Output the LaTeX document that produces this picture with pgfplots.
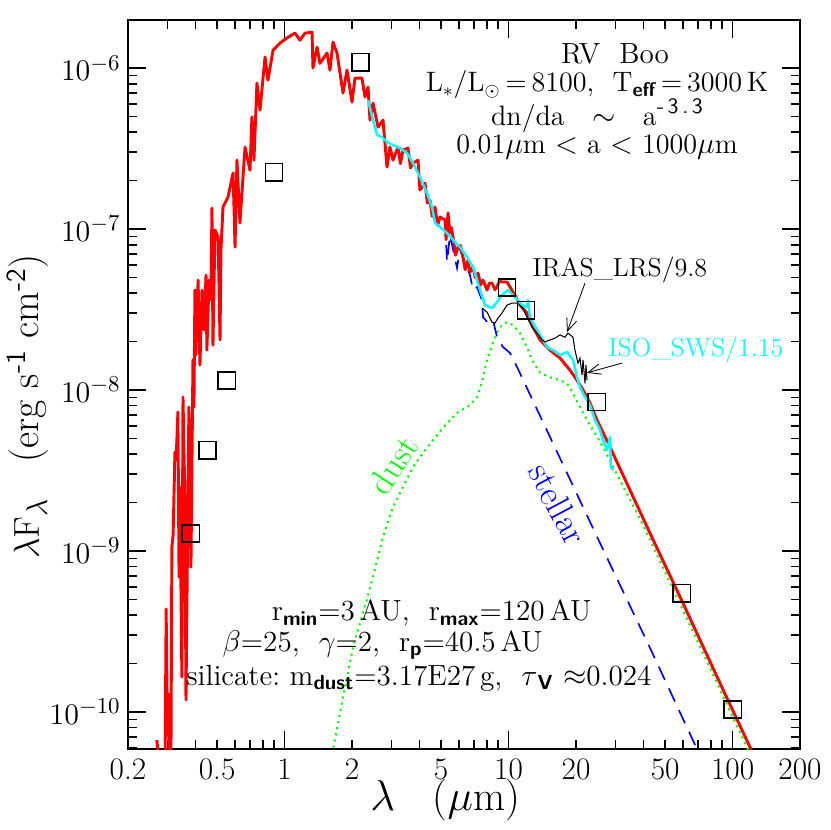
\documentclass[border=0pt]{standalone}
\usepackage{amsmath}
\usepackage{graphicx}
\usepackage{pgfplots}
\pgfplotsset{compat=1.18}
\usetikzlibrary{arrows.meta}
\definecolor{sedred}{HTML}{FF0000}
\definecolor{sedcyan}{HTML}{00FFFF}
\definecolor{sedblue}{HTML}{0000FF}
\definecolor{sedgreen}{HTML}{00FF00}
\newcommand{\fs}[1]{\fontsize{#1}{#1}\selectfont}
\newcommand{\lsub}[1]{$_{\text{\sffamily\bfseries #1}}$}
\newcommand{\lsup}[1]{$^{\text{\sffamily #1}}$}

\begin{document}
\begin{tikzpicture}
\begin{axis}[
  name=ax, at={(0,0)}, anchor=south west,
  scale only axis, width=322.56pt, height=349.92pt,
  xmode=log, ymode=log,
  xmin=0.2, xmax=200, ymin=5.89e-11, ymax=1.99e-6,
  xtick={1,10,100}, xticklabels={1,10,100},
  extra x ticks={0.2,0.5,2,5,20,50,200},
  extra x tick labels={0.2,0.5,2,5,20,50,200},
  extra x tick style={major tick length=0pt},
  minor xtick={0.3,0.4,0.5,0.6,0.7,0.8,0.9,2,3,4,5,6,7,8,9,20,30,40,50,60,70,80,90,200},
  ytick={1e-10,1e-9,1e-8,1e-7,1e-6},
  minor ytick={6e-11,7e-11,8e-11,9e-11,2e-10,3e-10,4e-10,5e-10,6e-10,7e-10,8e-10,9e-10,
    2e-9,3e-9,4e-9,5e-9,6e-9,7e-9,8e-9,9e-9,2e-8,3e-8,4e-8,5e-8,6e-8,7e-8,8e-8,9e-8,
    2e-7,3e-7,4e-7,5e-7,6e-7,7e-7,8e-7,9e-7,2e-6},
  tick align=inside, tick pos=both,
  major tick length=8.6pt, minor tick length=4.3pt,
  every tick/.style={black, line width=0.8pt},
  axis line style={line width=0.9pt},
  tick label style={font=\fs{15}},
  xticklabel style={yshift=-1pt},
  xlabel={$\lambda$\ \ \ ($\mu$m)},
  ylabel={$\lambda\mathrm{F}_\lambda$\ \ \ (erg s\lsup{-1} cm\lsup{-2})},
  xlabel style={font=\fs{20}, at={(axis description cs:0.472,-0.07)}, anchor=center},
  ylabel style={font=\fs{19}, at={(axis description cs:-0.149,0.47)}, anchor=center},
]

% dust
\addplot[sedgreen, line width=1pt, dash pattern=on 1pt off 2pt] coordinates {
 (1.612,5.04e-11) (1.824,1.24e-10) (2.021,2.53e-10) (2.240,4.12e-10) (2.482,6.90e-10)
 (2.750,1.22e-9) (3.048,1.88e-9) (3.378,2.50e-9) (3.744,3.33e-9) (4.150,4.06e-9)
 (4.598,4.89e-9) (5.312,6.24e-9) (5.886,7.20e-9) (6.726,8.07e-9) (7.228,9.05e-9)
 (7.612,1.12e-8) (8.014,1.54e-8) (8.522,1.96e-8) (8.972,2.36e-8) (9.346,2.53e-8)
 (9.840,2.64e-8) (10.47,2.53e-8) (11.25,2.26e-8) (12.08,1.85e-8) (12.72,1.54e-8)
 (13.82,1.28e-8) (15.31,1.20e-8) (16.97,1.15e-8) (18.24,1.10e-8) (19.39,9.57e-9)
 (20.84,7.84e-9) (22.40,6.51e-9) (23.82,5.64e-9) (26.40,4.43e-9) (39.83,1.45e-9)
 (58.26,4.69e-10) (79.30,1.88e-10) (97.40,1.01e-10) (123.4,5.04e-11)};

% stellar
\addplot[sedblue, line width=0.8pt, dash pattern=on 7pt off 4.5pt] coordinates {
 (5.204,1.12e-7) (5.312,6.24e-8) (5.476,9.2e-8) (5.886,5.73e-8) (6.070,7.5e-8)
 (6.260,6.6e-8) (6.726,5.18e-8) (6.938,4.18e-8) (7.228,4.36e-8) (7.612,3.62e-8)
 (7.690,2.84e-8) (8.096,2.61e-8) (8.522,2.72e-8) (8.880,2.13e-8) (9.444,1.85e-8)
 (10.15,1.70e-8) (10.91,1.39e-8) (15.31,5.11e-9) (25.60,1.12e-9) (42.80,2.50e-10)
 (79.30,3.95e-11)};

% total model
\addplot[sedred, line width=1.4pt, line join=round] coordinates {
 (0.269,6.70e-11) (0.275,5e-11) (0.293,5e-11) (0.296,4.37e-10) (0.299,1.19e-10)
 (0.302,1.31e-10) (0.305,5e-11) (0.311,5e-11) (0.314,1.06e-9) (0.318,1.26e-9)
 (0.324,4.12e-9) (0.328,3.67e-9) (0.334,7.30e-9) (0.338,6.90e-10) (0.341,2.50e-9)
 (0.348,1.65e-10) (0.352,9.05e-9) (0.359,2.07e-9) (0.363,1.19e-10) (0.374,7.84e-9)
 (0.382,7.96e-10) (0.390,1.54e-8) (0.394,7.84e-9) (0.398,4.18e-8) (0.402,1.65e-8)
 (0.411,4.82e-8) (0.419,1.43e-8) (0.428,4.18e-8) (0.437,2.36e-8) (0.446,5.18e-8)
 (0.450,1.77e-8) (0.460,4.82e-8) (0.469,3.62e-8) (0.474,1.35e-7) (0.479,1.90e-8)
 (0.489,9.86e-8) (0.505,8.91e-8) (0.515,2.05e-8) (0.520,7.41e-8) (0.531,1.37e-7)
 (0.559,1.58e-7) (0.589,2.23e-7) (0.601,7.73e-8) (0.613,2.68e-7) (0.632,1.09e-7)
 (0.666,3.23e-7) (0.701,2.32e-7) (0.715,4.97e-7) (0.730,2.68e-7) (0.753,8.07e-7)
 (0.777,5.48e-7) (0.818,1.17e-6) (0.843,8.42e-7) (0.888,1.29e-6) (0.954,1.43e-6)
 (1.025,1.54e-6) (1.113,1.65e-6) (1.172,1.49e-6) (1.234,1.65e-6) (1.326,1.67e-6)
 (1.339,1.00e-6) (1.396,1.35e-6) (1.439,1.07e-6) (1.547,1.24e-6) (1.595,9.72e-7)
 (1.645,1.45e-6) (1.714,1.24e-6) (1.824,7.00e-7) (1.900,9.72e-7) (2.000,6.15e-7)
 (2.062,8.67e-7) (2.216,8.67e-7) (2.286,6.61e-7) (2.358,7.62e-7) (2.406,4.75e-7)
 (2.482,6.06e-7) (2.614,4.30e-7) (2.750,4.75e-7) (2.866,2.43e-7) (2.954,3.23e-7)
 (3.048,2.68e-7) (3.210,3.23e-7) (3.290,2.55e-7) (3.378,3.10e-7) (3.556,3.18e-7)
 (3.650,2.40e-7) (3.744,2.57e-7) (3.942,2.68e-7) (4.020,1.75e-7) (4.108,1.82e-7)
 (4.236,1.93e-7) (4.340,1.45e-7) (4.460,1.51e-7) (4.560,1.20e-7) (4.696,1.37e-7)
 (4.820,1.05e-7) (4.944,1.19e-7) (5.204,1.14e-7) (5.260,8.6e-8) (5.366,1.26e-7)
 (5.476,9.44e-8) (5.560,1.02e-7) (5.648,8.91e-8) (5.800,6.9e-8) (5.946,7.73e-8)
 (6.100,7.9e-8) (6.260,6.70e-8) (6.400,5.6e-8) (6.592,6.41e-8) (6.720,5.4e-8)
 (6.938,5.81e-8) (7.100,5.0e-8) (7.304,5.33e-8) (7.500,4.5e-8) (7.690,4.82e-8)
 (8.014,4.18e-8) (8.200,4.6e-8) (8.434,4.62e-8) (8.700,4.2e-8) (8.880,4.36e-8)
 (9.100,4.8e-8) (9.346,4.69e-8) (9.840,4.69e-8) (10.15,4.36e-8) (10.68,3.89e-8)
 (11.25,3.37e-8) (12.08,3.01e-8) (12.85,2.46e-8) (13.82,2.05e-8) (15.31,1.77e-8)
 (16.97,1.58e-8) (18.80,1.33e-8) (20.21,1.15e-8) (21.50,1.00e-8) (23.09,8.30e-9)
 (24.82,6.51e-9) (28.36,4.43e-9) (42.80,1.29e-9) (59.46,4.89e-10) (87.90,1.51e-10)
 (127.2,5.04e-11)};

% ISO SWS / 1.15
\addplot[sedcyan, line width=1.2pt, line join=round] coordinates {
 (2.358,6.32e-7) (2.482,4.75e-7) (2.586,3.84e-7) (2.722,3.73e-7) (2.866,3.47e-7)
 (3.048,3.33e-7) (3.276,3.18e-7) (3.520,2.97e-7) (3.744,2.57e-7) (4.024,2.10e-7)
 (4.324,1.67e-7) (4.552,1.37e-7) (4.696,1.09e-7) (4.944,1.03e-7) (5.312,9.44e-8)
 (5.648,8.55e-8) (6.070,7.73e-8) (6.524,6.70e-8) (6.938,5.81e-8) (7.454,4.18e-8)
 (7.850,3.37e-8) (8.434,3.23e-8) (8.880,3.52e-8) (9.346,3.89e-8) (9.942,4.18e-8)
 (10.68,3.78e-8) (11.48,3.37e-8) (12.08,3.28e-8) (12.21,3.62e-8) (12.46,2.84e-8)
 (13.39,2.36e-8) (14.25,2.05e-8) (14.84,1.85e-8) (15.79,1.77e-8) (16.97,1.65e-8)
 (18.24,1.72e-8) (19.39,1.54e-8) (20.21,1.20e-8) (20.84,1.04e-8) (21.94,9.05e-9)
 (23.09,8.07e-9) (24.32,6.51e-9) (25.60,5.64e-9) (26.40,4.89e-9) (27.50,4.24e-9)
 (28.36,5.11e-9) (28.66,3.33e-9) (29.26,3.18e-9)};

% IRAS LRS / 9.8
\addplot[black, line width=0.5pt] coordinates {
 (7.612,3.23e-8) (8.014,3.05e-8) (8.434,2.64e-8) (8.700,2.61e-8) (8.972,2.80e-8)
 (9.346,3.01e-8) (9.840,3.37e-8) (10.36,3.47e-8) (10.91,3.47e-8) (11.48,3.28e-8)
 (12.08,2.84e-8) (12.72,2.46e-8) (13.39,2.26e-8) (14.10,2.05e-8) (14.54,1.99e-8)
 (15.31,2.05e-8) (16.12,2.10e-8) (16.97,2.20e-8) (17.86,2.13e-8) (18.42,2.26e-8)
 (19.39,2.13e-8) (19.79,1.77e-8) (20.41,1.47e-8) (20.84,1.58e-8) (21.28,1.24e-8)
 (21.50,1.54e-8) (21.94,1.10e-8) (22.16,1.43e-8) (22.40,1.15e-8)};

% photometry
\addplot[black, only marks, mark=square, mark size=4.1pt, mark options={line width=0.9pt}] coordinates {
 (0.382,1.29e-9) (0.451,4.24e-9) (0.553,1.15e-8) (0.897,2.26e-7) (2.19,1.09e-6)
 (9.84,4.36e-8) (11.96,3.14e-8) (24.8,8.43e-9) (59.4,5.48e-10) (100.4,1.04e-10)};

\draw[black, line width=0.4pt, -{Straight Barb[length=6pt,width=5pt]}]
  (axis cs:21.94,4.62e-8) -- (axis cs:18.24,2.29e-8);
\draw[black, line width=0.4pt, -{Straight Barb[length=6pt,width=5pt]}]
  (axis cs:32.10,1.47e-8) -- (axis cs:22.40,1.28e-8);

\node[font=\fs{12.5}] at (rel axis cs:0.732,0.657) {IRAS\_LRS/9.8};
\node[font=\fs{12.5}, text=sedcyan] at (rel axis cs:0.845,0.547) {ISO\_SWS/1.15};
\node[font=\fs{17}, text=sedgreen, rotate=57] at (rel axis cs:0.395,0.390) {dust};
\node[font=\fs{17}, text=sedblue, rotate=-62] at (rel axis cs:0.640,0.336) {stellar};

\node[font=\fs{14}] at (rel axis cs:0.7247,0.953) {RV\ \ Boo};
\node[font=\fs{13.5}] at (rel axis cs:0.698,0.911) {L$_*$/L$_\odot$\,=\,8100,\ \ T\lsub{eff}\,=\,3000\,K};
\node[font=\fs{13.5}] at (rel axis cs:0.698,0.869) {dn/da\ \ \ $\sim$\ \ \ a\raisebox{0.95ex}{\fs{10.5}\sffamily -\,3\,.\,3}};
\node[font=\fs{13.5}] at (rel axis cs:0.698,0.826) {0.01$\mu$m $<$ a $<$ 1000$\mu$m};

\node[font=\fs{14}] at (rel axis cs:0.452,0.1866) {r\lsub{min}=3\,AU,\ \ r\lsub{max}=120\,AU};
\node[font=\fs{14}] at (rel axis cs:0.379,0.1427) {$\beta$=25,\ \ $\gamma$=2,\ \ r\lsub{p}=40.5\,AU};
\node[font=\fs{14}] at (rel axis cs:0.433,0.0974) {silicate:\ m\lsub{dust}=3.17E27\,g,\ \ $\tau$\lsub{V} $\approx$0.024};
\end{axis}
\pgfresetboundingbox
\path[use as bounding box] (-61.44pt,-38.88pt) rectangle (336.96pt,359.52pt);
\end{tikzpicture}
\end{document}
